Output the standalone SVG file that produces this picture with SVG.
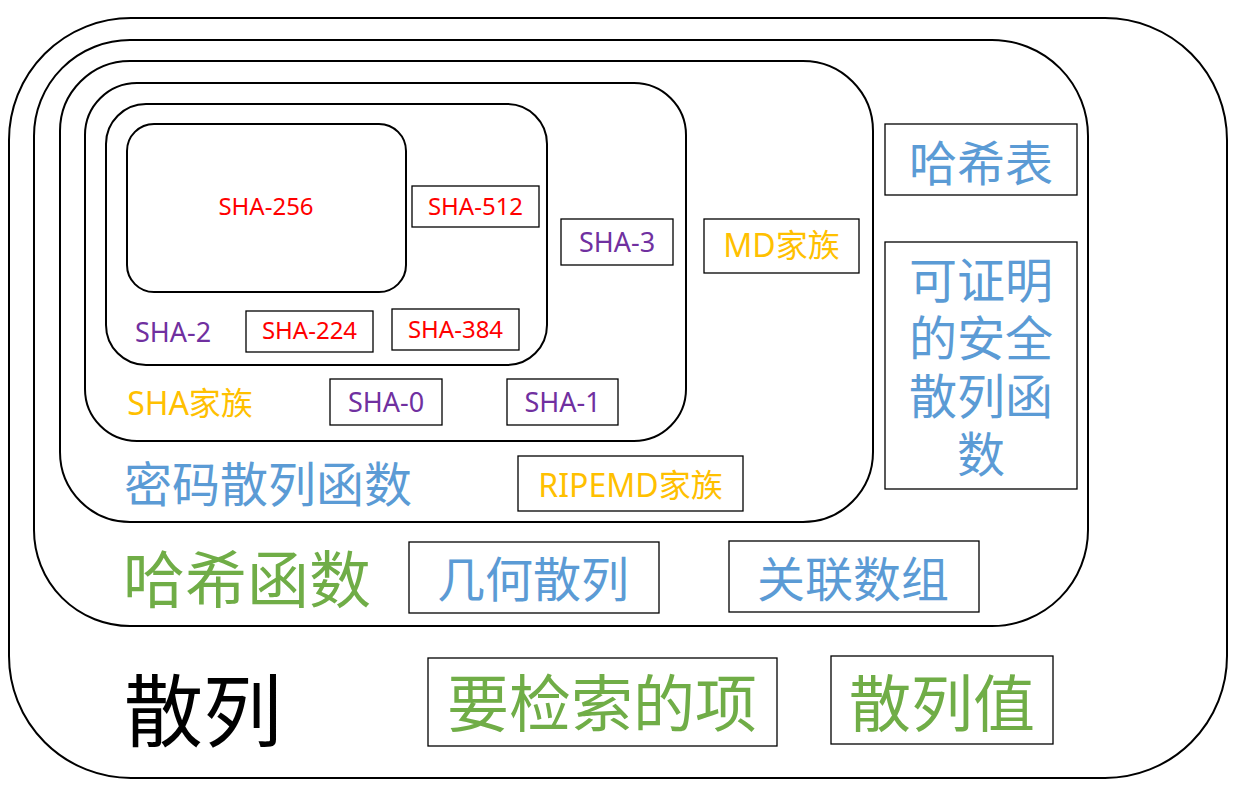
<svg xmlns="http://www.w3.org/2000/svg" width="1238" height="798" viewBox="0 0 1238 798">
<style>
.big{fill:none;stroke:#000;stroke-width:2}
.box{fill:none;stroke:#000;stroke-width:1.3}
text{font-family:"Noto Sans","Noto Sans CJK SC",sans-serif;text-anchor:middle}
.red{fill:#FF0000}
.pur{fill:#7030A0}
.gold{fill:#FFC000}
.blue{fill:#5B9BD5}
.green{fill:#70AD47}
.blk{fill:#000}
</style>
<rect width="1238" height="798" fill="#fff"/>
<g id="hash">
<rect class="big" x="9" y="18" width="1218" height="760" rx="122" ry="122"/>
<text class="blk" x="203" y="741" font-size="79">散列</text>
</g>
<g id="hash-function">
<rect class="big" x="34" y="40" width="1054" height="586" rx="96" ry="96"/>
<text class="green" x="247" y="603" font-size="62">哈希函数</text>
</g>
<g id="crypto-hash">
<rect class="big" x="60" y="61" width="813" height="461" rx="70" ry="70"/>
<text class="blue" x="268" y="502" font-size="48">密码散列函数</text>
</g>
<g id="sha-family">
<rect class="big" x="85" y="83" width="601" height="358" rx="52" ry="52"/>
<text class="gold" x="190" y="415" font-size="32">SHA家族</text>
</g>
<g id="sha-2">
<rect class="big" x="106" y="104" width="441" height="261" rx="40" ry="40"/>
<text class="pur" x="173" y="342" font-size="27">SHA-2</text>
</g>
<g id="sha-256">
<rect class="big" x="127" y="124" width="279" height="168" rx="27" ry="27"/>
<text class="red" x="266" y="215" font-size="24">SHA-256</text>
</g>
<g id="sha-512">
<rect class="box" x="412" y="186" width="127" height="41"/>
<text class="red" x="475.5" y="215" font-size="24">SHA-512</text>
</g>
<g id="sha-224">
<rect class="box" x="246" y="311" width="127" height="41"/>
<text class="red" x="309.5" y="339" font-size="24">SHA-224</text>
</g>
<g id="sha-384">
<rect class="box" x="392" y="309" width="127" height="41"/>
<text class="red" x="455.5" y="338" font-size="24">SHA-384</text>
</g>
<g id="sha-3">
<rect class="box" x="561" y="219" width="112" height="46"/>
<text class="pur" x="617" y="252" font-size="27">SHA-3</text>
</g>
<g id="sha-0">
<rect class="box" x="330" y="379" width="112" height="46"/>
<text class="pur" x="386" y="412" font-size="27">SHA-0</text>
</g>
<g id="sha-1">
<rect class="box" x="507" y="379" width="111" height="46"/>
<text class="pur" x="562.5" y="412" font-size="27">SHA-1</text>
</g>
<g id="md-family">
<rect class="box" x="704" y="219" width="155" height="54"/>
<text class="gold" x="781.5" y="257" font-size="32">MD家族</text>
</g>
<g id="ripemd-family">
<rect class="box" x="518" y="456" width="225" height="55"/>
<text class="gold" x="630.5" y="497" font-size="32">RIPEMD家族</text>
</g>
<g id="hash-table">
<rect class="box" x="885" y="124" width="192" height="71"/>
<text class="blue" x="981" y="181" font-size="48">哈希表</text>
</g>
<g id="provable-hash">
<rect class="box" x="885" y="242" width="192" height="247"/>
<text class="blue" font-size="48"><tspan x="981" y="298">可证明</tspan><tspan x="981" y="356">的安全</tspan><tspan x="981" y="414">散列函</tspan><tspan x="981" y="472">数</tspan></text>
</g>
<g id="geometric-hash">
<rect class="box" x="409" y="542" width="250" height="71"/>
<text class="blue" x="533" y="597" font-size="48">几何散列</text>
</g>
<g id="assoc-array">
<rect class="box" x="729" y="541" width="250" height="71"/>
<text class="blue" x="853" y="597" font-size="48">关联数组</text>
</g>
<g id="item">
<rect class="box" x="428" y="658" width="349" height="88"/>
<text class="green" x="602" y="727" font-size="62">要检索的项</text>
</g>
<g id="hash-value">
<rect class="box" x="831" y="656" width="222" height="88"/>
<text class="green" x="942" y="727" font-size="62">散列值</text>
</g>
<g id="connectors"/>
</svg>
